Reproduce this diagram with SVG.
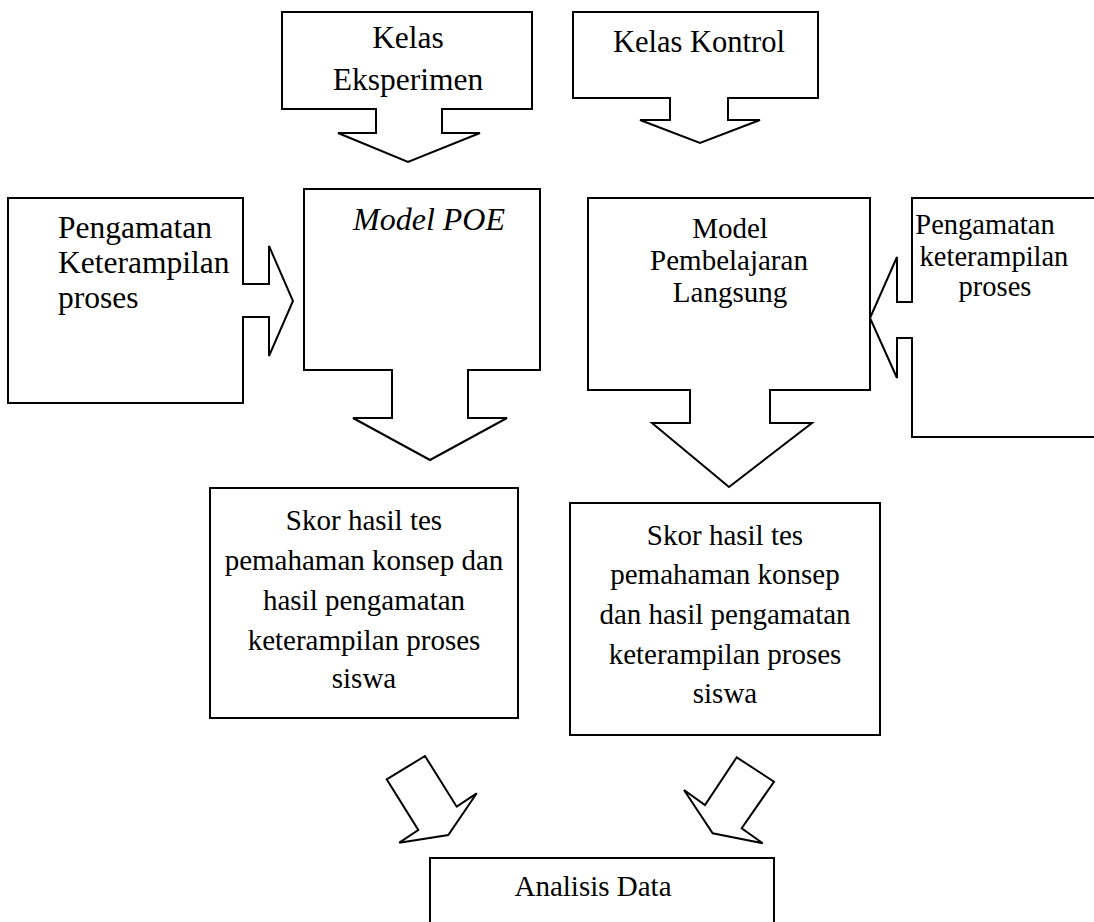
<svg xmlns="http://www.w3.org/2000/svg" width="1094" height="922" viewBox="0 0 1094 922">
<style>
.shape{fill:#fff;stroke:#000;stroke-width:2;stroke-linejoin:miter}
.t{font-family:"Liberation Serif","Times New Roman",serif;font-size:31.5px;fill:#000}
.c{text-anchor:middle}
.s{font-size:29px}
.r{font-size:28.5px}
.i{font-style:italic;font-size:32px}
</style>
<rect width="1094" height="922" fill="#fff"/>
<g id="connectors">
<polygon class="shape" points="386.7,779.3 425,756 456.7,806.7 476.7,793.3 448.3,835 399.3,842.7 418.3,830"/>
<polygon class="shape" points="736.7,757.3 774,781.7 741.7,828.3 762.7,843.3 712.7,833.3 684,790 705,805"/>
</g>
<g id="kelas-eksperimen">
<polygon class="shape" points="282,12 532,12 532,109 442,109 442,133 480,133 408,162 338,133 376,133 376,109 282,109"/>
<text class="t c" x="408" y="48">Kelas</text>
<text class="t c" x="408" y="90">Eksperimen</text>
</g>
<g id="kelas-kontrol">
<polygon class="shape" points="573,12 818,12 818,98 728,98 728,120 760,120 700,143 640,120 670,120 670,98 573,98"/>
<text class="t c" x="699" y="52" style="font-size:30.5px">Kelas Kontrol</text>
</g>
<g id="pengamatan-kiri">
<polygon class="shape" points="8,198 243,198 243,284 269,284 269,246 293,301 269,356 269,317 243,317 243,403 8,403"/>
<text class="t" x="58" y="238">Pengamatan</text>
<text class="t" x="58" y="273">Keterampilan</text>
<text class="t" x="58" y="308">proses</text>
</g>
<g id="model-poe">
<polygon class="shape" points="304,189 540,189 540,370 468,370 468,418 507,418 430,460 353,418 392,418 392,370 304,370"/>
<text class="t c i" x="429" y="230">Model POE</text>
</g>
<g id="model-langsung">
<polygon class="shape" points="588,198 870,198 870,390 770,390 770,423 812,423 729,487 652,423 690,423 690,390 588,390"/>
<text class="t c s" x="730" y="238">Model</text>
<text class="t c s" x="729" y="270">Pembelajaran</text>
<text class="t c s" x="730" y="302">Langsung</text>
</g>
<g id="pengamatan-kanan">
<path class="shape" d="M1100,198 L912,198 L912,302 L897,302 L897,257 L870,318 L897,378 L897,338 L912,338 L912,437 L1100,437"/>
<text class="t c r" x="985" y="234">Pengamatan</text>
<text class="t c r" x="994" y="266">keterampilan</text>
<text class="t c r" x="995" y="296">proses</text>
</g>
<g id="skor-kiri">
<rect class="shape" x="210" y="488" width="308" height="230"/>
<text class="t c s" x="364" y="530">Skor hasil tes</text>
<text class="t c s" x="364" y="570">pemahaman konsep dan</text>
<text class="t c s" x="364" y="610">hasil pengamatan</text>
<text class="t c s" x="364" y="650">keterampilan proses</text>
<text class="t c s" x="364" y="688">siswa</text>
</g>
<g id="skor-kanan">
<rect class="shape" x="570" y="503" width="310" height="232"/>
<text class="t c s" x="725" y="545">Skor hasil tes</text>
<text class="t c s" x="725" y="584">pemahaman konsep</text>
<text class="t c s" x="725" y="624">dan hasil pengamatan</text>
<text class="t c s" x="725" y="664">keterampilan proses</text>
<text class="t c s" x="725" y="703">siswa</text>
</g>
<g id="analisis-data">
<rect class="shape" x="430" y="858" width="344" height="80"/>
<text class="t c s" x="593" y="896">Analisis Data</text>
</g>
</svg>
